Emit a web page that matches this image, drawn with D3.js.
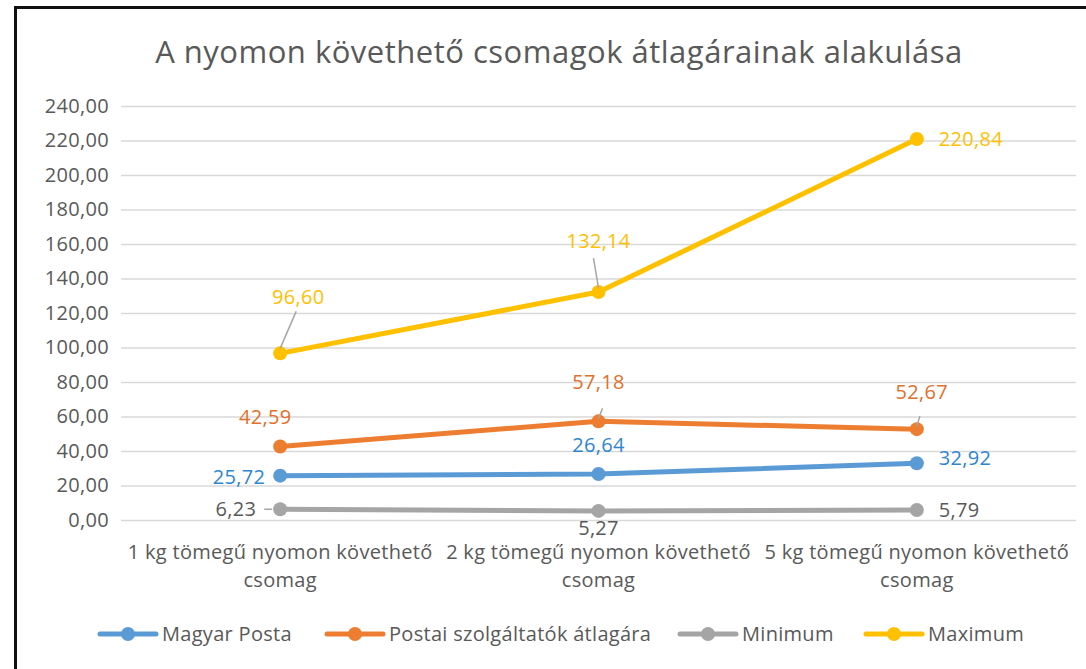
<!DOCTYPE html>
<html lang="hu">
<head>
<meta charset="utf-8">
<title>A nyomon követhető csomagok átlagárainak alakulása</title>
<script src="https://cdn.jsdelivr.net/npm/d3@7"></script>
<style>
  body { margin: 0; background: #fff; }
  svg text { font-family: "Open Sans", "Noto Sans", sans-serif; letter-spacing: 0.3px; }
</style>
</head>
<body>
<script>
// data
var categories = [
  ["1 kg tömegű nyomon követhető", "csomag"],
  ["2 kg tömegű nyomon követhető", "csomag"],
  ["5 kg tömegű nyomon követhető", "csomag"]
];
var seriesNames = ["Magyar Posta", "Postai szolgáltatók átlagára", "Minimum", "Maximum"];
var magyarPosta = [25.72, 26.64, 32.92];
var postaiAtlag = [42.59, 57.18, 52.67];
var minimum = [6.23, 5.27, 5.79];
var maximum = [96.60, 132.14, 220.84];
var yTicks = [0, 20, 40, 60, 80, 100, 120, 140, 160, 180, 200, 220, 240];

var colors = ["#5B9BD5", "#ED7D31", "#A5A5A5", "#FFC000"];
var labelColors = ["#2E86CF", "#E0702A", "#595959", "#FFC000"];
var allSeries = [magyarPosta, postaiAtlag, minimum, maximum];

// label placement per series/point: dx, dy relative to point, anchor, leader line
var labelPos = [
  [{dx: -15, dy: 8, a: "end"}, {dx: 0, dy: -22, a: "middle"}, {dx: 22, dy: 2, a: "start"}],
  [{dx: -15, dy: -23, a: "middle"}, {dx: 0, dy: -32, a: "middle", lead: [[4, -13], [0, -3]]}, {dx: 5, dy: -30, a: "middle", lead: [[3, -13], [0, -3]]}],
  [{dx: -24, dy: 7, a: "end", lead: [[-16, 0], [-8, 0]]}, {dx: 0, dy: 24, a: "middle"}, {dx: 22, dy: 7, a: "start"}],
  [{dx: 18, dy: -49, a: "middle", lead: [[16, -42], [0, -5]]}, {dx: 0, dy: -44, a: "middle", lead: [[-5, -34], [0, -4]]}, {dx: 22, dy: 7, a: "start"}]
];

var W = 1086, H = 669;
var plotLeft = 121, plotRight = 1076, plotTop = 106, plotBottom = 520;

var svg = d3.select("body").append("svg")
  .attr("width", W).attr("height", H);

svg.append("rect").attr("x", 0).attr("y", 0).attr("width", W).attr("height", H).attr("fill", "#fff");
// chart border (cut off at right and bottom)
svg.append("path")
  .attr("d", "M15.5," + H + "V7.5H" + W)
  .attr("fill", "none").attr("stroke", "#111").attr("stroke-width", 3);

var x = d3.scalePoint().domain(d3.range(categories.length)).range([plotLeft, plotRight]).padding(0.5);
var y = d3.scaleLinear().domain([0, 240]).range([plotBottom, plotTop]);

// title
svg.append("text")
  .attr("x", 559).attr("y", 63)
  .attr("text-anchor", "middle")
  .attr("font-size", 31)
  .style("letter-spacing", "0.5px")
  .attr("fill", "#595959")
  .text("A nyomon követhető csomagok átlagárainak alakulása");

// grid
var yAxis = d3.axisLeft(y).tickValues(yTicks).tickSize(-(plotRight - plotLeft)).tickPadding(12)
  .tickFormat(function(d) { return d3.format(".2f")(d).replace(".", ","); });
var ga = svg.append("g").attr("transform", "translate(" + plotLeft + ",0)").call(yAxis);
ga.select(".domain").remove();
ga.selectAll(".tick line").attr("stroke", "#D9D9D9").attr("stroke-width", 1.5);
ga.selectAll(".tick text").attr("fill", "#595959").attr("font-size", 20)
  .attr("font-family", "\"Open Sans\", sans-serif");

// category labels
var gc = svg.append("g");
categories.forEach(function(c, i) {
  var t = gc.append("text").attr("text-anchor", "middle").attr("fill", "#595959").attr("font-size", 20);
  c.forEach(function(line, j) {
    t.append("tspan").attr("x", x(i)).attr("y", 559 + j * 28).text(line);
  });
});

// lines
var line = d3.line().x(function(d, i) { return x(i); }).y(function(d) { return y(d); });
var drawOrder = [0, 1, 2, 3];
drawOrder.forEach(function(s) {
  var g = svg.append("g");
  g.append("path").datum(allSeries[s]).attr("d", line)
    .attr("fill", "none").attr("stroke", colors[s]).attr("stroke-width", 5)
    .attr("stroke-linejoin", "round").attr("stroke-linecap", "round");
  g.selectAll("circle").data(allSeries[s]).enter().append("circle")
    .attr("cx", function(d, i) { return x(i); })
    .attr("cy", function(d) { return y(d); })
    .attr("r", 7).attr("fill", colors[s]);
});

// data labels
drawOrder.forEach(function(s) {
  allSeries[s].forEach(function(v, i) {
    var p = labelPos[s][i];
    var px = x(i), py = y(v);
    if (p.lead) {
      svg.append("line")
        .attr("x1", px + p.lead[0][0]).attr("y1", py + p.lead[0][1])
        .attr("x2", px + p.lead[1][0]).attr("y2", py + p.lead[1][1])
        .attr("stroke", "#A6A6A6").attr("stroke-width", 1.5);
    }
    svg.append("text")
      .attr("x", px + p.dx).attr("y", py + p.dy)
      .attr("text-anchor", p.a)
      .attr("font-size", 20)
      .attr("fill", labelColors[s])
      .text(d3.format(".2f")(v).replace(".", ","));
  });
});

// legend
var legendX = [100, 327, 680, 866];
var lg = svg.append("g").attr("transform", "translate(0,634)");
seriesNames.forEach(function(n, i) {
  var g = lg.append("g").attr("transform", "translate(" + legendX[i] + ",0)");
  g.append("line").attr("x1", 0).attr("x2", 56).attr("y1", 0).attr("y2", 0)
    .attr("stroke", colors[i]).attr("stroke-width", 5).attr("stroke-linecap", "round");
  g.append("circle").attr("cx", 28).attr("cy", 0).attr("r", 7).attr("fill", colors[i]);
  g.append("text").attr("x", 62).attr("y", 7).attr("font-size", 20).attr("fill", "#595959").text(n);
});
</script>
</body>
</html>
